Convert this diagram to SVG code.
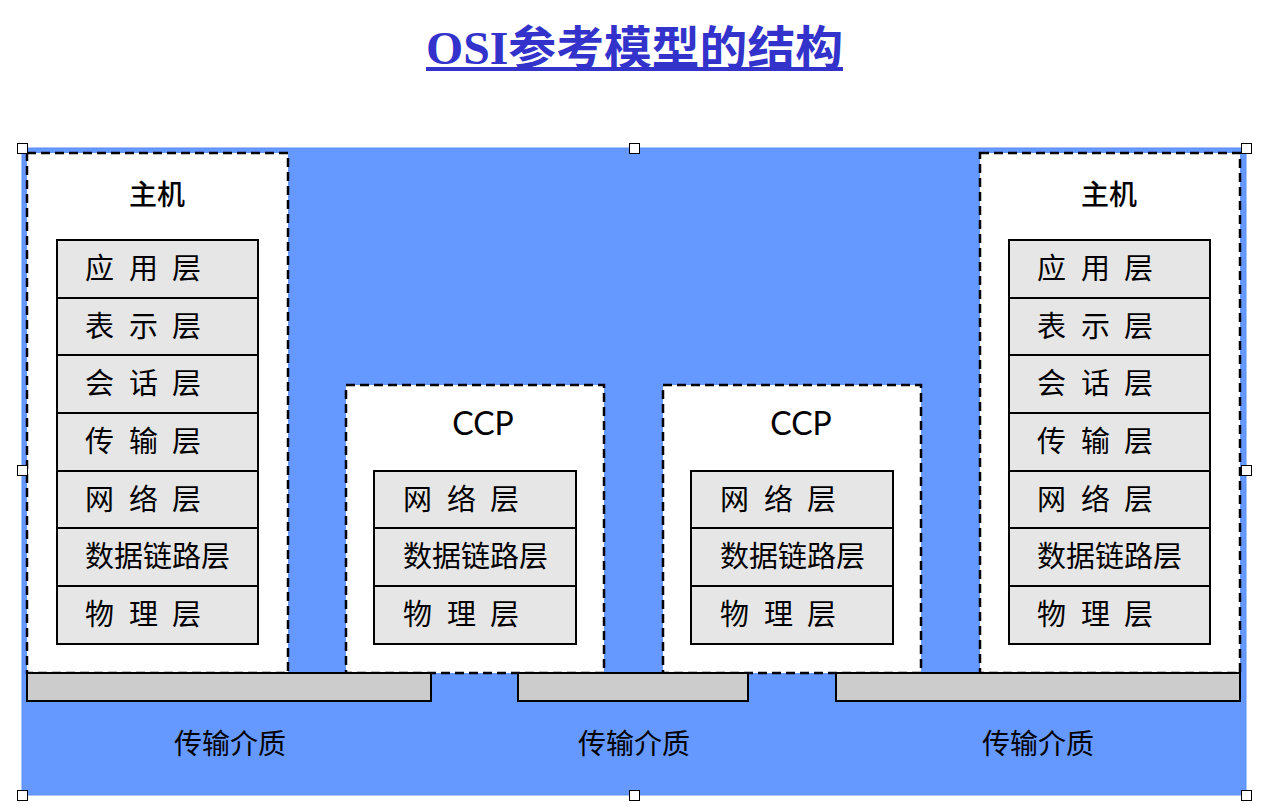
<svg xmlns="http://www.w3.org/2000/svg" width="1282" height="808" viewBox="0 0 1282 808">
<style>
.cjk{font-family:"Noto Sans CJK SC","Noto Sans",sans-serif;fill:#000}
.lay{fill:#e6e6e6;stroke:#000;stroke-width:2}
.box{fill:#fff;stroke:#000;stroke-width:2.5;stroke-dasharray:9 5}
.bar{fill:#cccccc;stroke:#000;stroke-width:2}
.lt{font-size:29px}
.hd{font-size:28px;font-weight:500}
.h{fill:#fff;stroke:#000;stroke-width:1}
.ccp{font-family:"Lato","Open Sans",sans-serif;font-size:32px;fill:#000}
</style>
<rect width="1282" height="808" fill="#fff"/>
<text x="426" y="64" font-size="46" font-weight="bold" fill="#3333cc" font-family="'Liberation Serif',serif" textLength="417" lengthAdjust="spacingAndGlyphs">OSI<tspan font-family="'Noto Sans CJK SC',sans-serif">参考模型的结构</tspan></text>
<rect x="426" y="67" width="417" height="4" fill="#3333cc"/>
<rect id="bg" x="22" y="148" width="1224" height="647" fill="#6699ff" stroke="#5a8ef5" stroke-width="1"/>

<g id="host-left">
<rect class="box" x="27" y="153" width="261" height="520"/>
<text class="cjk hd" x="157" y="205" text-anchor="middle">主机</text>
<rect class="lay" x="57" y="240" width="201" height="58"/>
<rect class="lay" x="57" y="298" width="201" height="57"/>
<rect class="lay" x="57" y="355" width="201" height="58"/>
<rect class="lay" x="57" y="413" width="201" height="58"/>
<rect class="lay" x="57" y="471" width="201" height="57"/>
<rect class="lay" x="57" y="528" width="201" height="58"/>
<rect class="lay" x="57" y="586" width="201" height="58"/>
<g class="cjk lt">
<text x="85 129 172" y="279">应用层</text>
<text x="85 129 172" y="337">表示层</text>
<text x="85 129 172" y="394">会话层</text>
<text x="85 129 172" y="452">传输层</text>
<text x="85 129 172" y="510">网络层</text>
<text x="85" y="567">数据链路层</text>
<text x="85 129 172" y="625">物理层</text>
</g>
</g>

<g id="ccp-left">
<rect class="box" x="346" y="385" width="258" height="288"/>
<text class="ccp" x="483" y="435" text-anchor="middle">CCP</text>
<rect class="lay" x="374" y="471" width="202" height="57"/>
<rect class="lay" x="374" y="528" width="202" height="58"/>
<rect class="lay" x="374" y="586" width="202" height="58"/>
<g class="cjk lt">
<text x="403 447 490" y="510">网络层</text>
<text x="403" y="567">数据链路层</text>
<text x="403 447 490" y="625">物理层</text>
</g>
</g>

<g id="ccp-right">
<rect class="box" x="663" y="385" width="258" height="288"/>
<text class="ccp" x="801" y="435" text-anchor="middle">CCP</text>
<rect class="lay" x="691" y="471" width="202" height="57"/>
<rect class="lay" x="691" y="528" width="202" height="58"/>
<rect class="lay" x="691" y="586" width="202" height="58"/>
<g class="cjk lt">
<text x="720 764 807" y="510">网络层</text>
<text x="720" y="567">数据链路层</text>
<text x="720 764 807" y="625">物理层</text>
</g>
</g>

<g id="host-right">
<rect class="box" x="980" y="153" width="260" height="520"/>
<text class="cjk hd" x="1109" y="205" text-anchor="middle">主机</text>
<rect class="lay" x="1009" y="240" width="201" height="58"/>
<rect class="lay" x="1009" y="298" width="201" height="57"/>
<rect class="lay" x="1009" y="355" width="201" height="58"/>
<rect class="lay" x="1009" y="413" width="201" height="58"/>
<rect class="lay" x="1009" y="471" width="201" height="57"/>
<rect class="lay" x="1009" y="528" width="201" height="58"/>
<rect class="lay" x="1009" y="586" width="201" height="58"/>
<g class="cjk lt">
<text x="1037 1081 1124" y="279">应用层</text>
<text x="1037 1081 1124" y="337">表示层</text>
<text x="1037 1081 1124" y="394">会话层</text>
<text x="1037 1081 1124" y="452">传输层</text>
<text x="1037 1081 1124" y="510">网络层</text>
<text x="1037" y="567">数据链路层</text>
<text x="1037 1081 1124" y="625">物理层</text>
</g>
</g>

<g id="media">
<rect class="bar" x="27" y="673" width="404" height="28"/>
<rect class="bar" x="518" y="673" width="230" height="28"/>
<rect class="bar" x="836" y="673" width="404" height="28"/>
<g class="cjk" font-size="28" text-anchor="middle">
<text x="230" y="754">传输介质</text>
<text x="634" y="754">传输介质</text>
<text x="1038" y="754">传输介质</text>
</g>
</g>

<g id="connectors"></g>

<g id="handles">
<rect class="h" x="17.5" y="143.5" width="10" height="10"/>
<rect class="h" x="629.5" y="143.5" width="10" height="10"/>
<rect class="h" x="1241.5" y="143.5" width="10" height="10"/>
<rect class="h" x="17.5" y="465.5" width="10" height="10"/>
<rect class="h" x="1241.5" y="465.5" width="10" height="10"/>
<rect class="h" x="17.5" y="790.5" width="10" height="10"/>
<rect class="h" x="629.5" y="790.5" width="10" height="10"/>
<rect class="h" x="1241.5" y="790.5" width="10" height="10"/>
</g>
</svg>
